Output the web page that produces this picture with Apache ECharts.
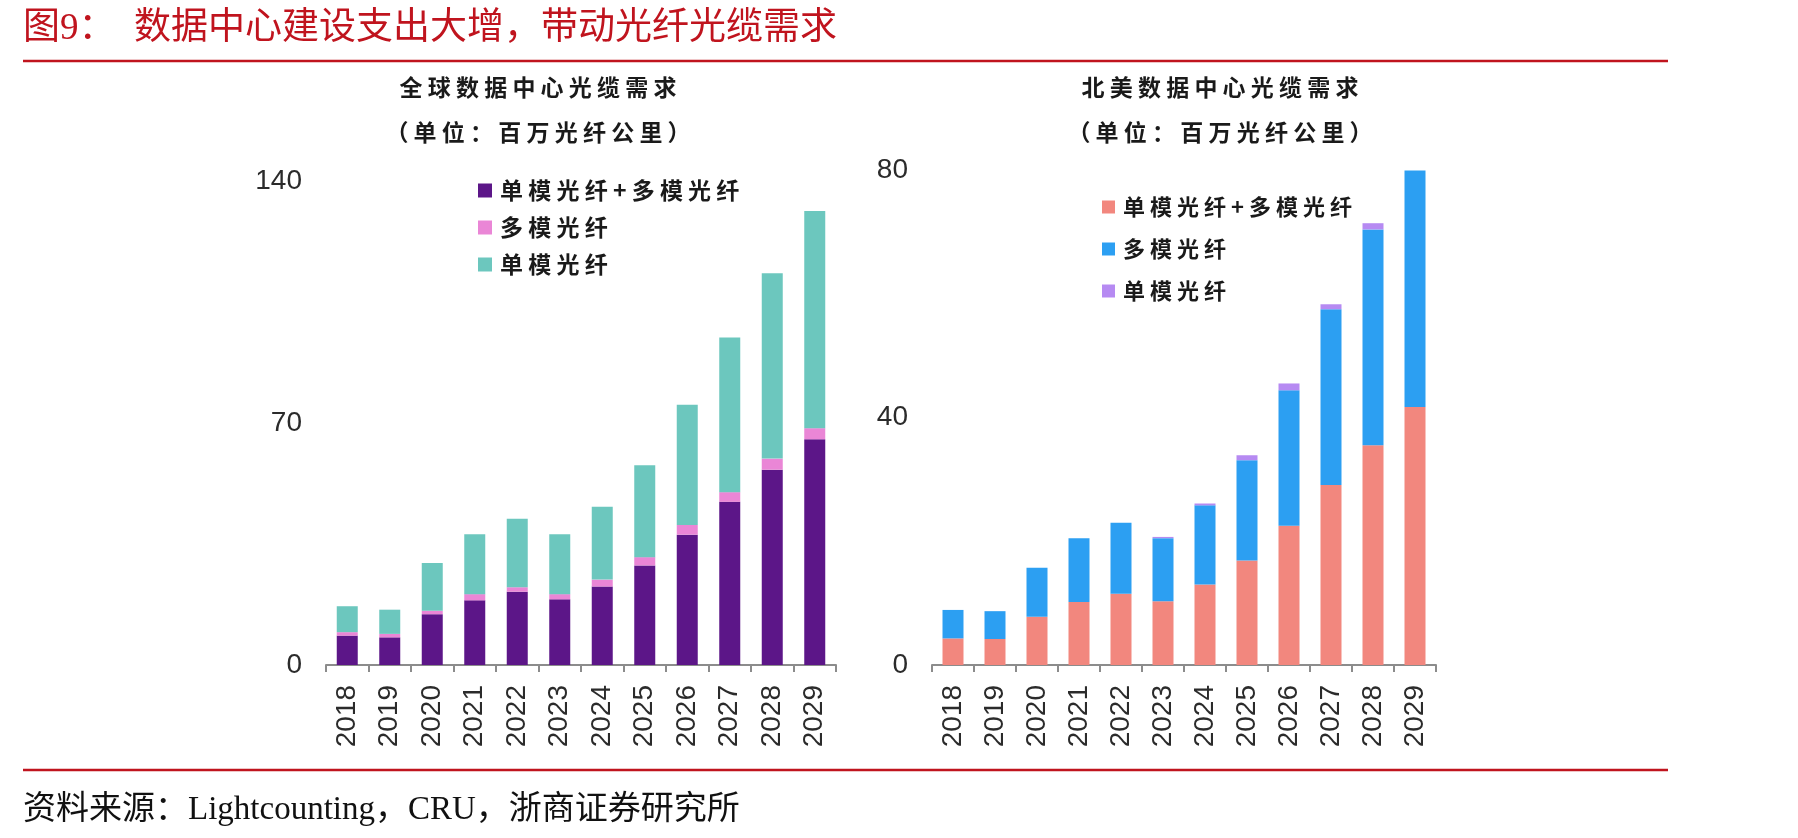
<!DOCTYPE html>
<html>
<head>
<meta charset="utf-8">
<script src="https://cdn.jsdelivr.net/npm/echarts@6/dist/echarts.min.js"></script>
<style>
html,body{margin:0;padding:0;background:#fff;}
#c{width:1798px;height:838px;}
</style>
</head>
<body>
<div id="c"></div>
<script>
// ---- data ----
const years = ['2018','2019','2020','2021','2022','2023','2024','2025','2026','2027','2028','2029'];
const seriesNames = ['单模光纤+多模光纤','多模光纤','单模光纤'];
// 全球数据中心光缆需求（百万光纤公里）
const globalSmMm = [8.5, 8.0, 14.7, 18.7, 21.2, 19.0, 22.7, 28.8, 37.7, 47.2, 56.5, 65.3];
const globalMm   = [1.0, 1.0, 1.0, 1.8, 1.3, 1.5, 2.0, 2.4, 2.8, 2.8, 3.2, 3.2];
const globalSm   = [7.5, 7.0, 13.8, 17.3, 19.8, 17.3, 21.1, 26.6, 34.8, 44.7, 53.6, 62.8];
// 北美数据中心光缆需求（百万光纤公里）
const naSmMm = [4.3, 4.2, 7.8, 10.2, 11.5, 10.3, 13.0, 16.9, 22.5, 29.1, 35.5, 41.7];
const naMm   = [4.6, 4.5, 7.9, 10.3, 11.5, 10.2, 12.8, 16.2, 21.9, 28.4, 34.9, 38.2];
const naSm   = [0, 0, 0, 0, 0, 0.2, 0.3, 0.8, 1.1, 0.8, 1.0, 0];
const globalTicks = [0, 70, 140];
const naTicks = [0, 40, 80];
const mainTitle = '图9：  数据中心建设支出大增，带动光纤光缆需求';
const leftTitle = '全球数据中心光缆需求';
const rightTitle = '北美数据中心光缆需求';
const unitText = '（单位：百万光纤公里）';
const sourceText = '资料来源：Lightcounting，CRU，浙商证券研究所';

// ---- chart ----
const spaced = s => s.split('').join(' ');
const CJK = '"Noto Sans CJK SC", sans-serif';
const NUM = '"Liberation Sans", Arial, sans-serif';
const SERIF = '"Liberation Serif", "Noto Sans CJK SC", serif';
const RED = '#c0141e';

const colorsL = ['#5c1688', '#ea86d6', '#6cc7be'];
const colorsR = ['#f2877e', '#2c9ff2', '#b68af2'];

function xAxis(gi){
  return {
    type:'category', gridIndex:gi, data:years,
    axisLine:{show:true, lineStyle:{color:'#8c8c8c', width:2}},
    axisTick:{show:true, alignWithLabel:false, length:7, lineStyle:{color:'#8c8c8c', width:2}},
    axisLabel:{rotate:90, fontSize:28, fontFamily:NUM, color:'#2b2b2b', margin:20}
  };
}
function yAxis(gi, ticks){
  return {
    type:'value', gridIndex:gi, min:ticks[0], max:ticks[ticks.length-1], interval:ticks[1]-ticks[0],
    axisLine:{show:false}, axisTick:{show:false}, splitLine:{show:false},
    axisLabel:{fontSize:28, fontFamily:NUM, color:'#2b2b2b', margin:24}
  };
}
function bar(name, data, gi, color, stack){
  return {name, type:'bar', xAxisIndex:gi, yAxisIndex:gi, stack, data, barWidth:21,
    itemStyle:{color}, emphasis:{disabled:true}};
}
const legendTextL = {fontSize:23, fontWeight:'bold', fontFamily:CJK, color:'#1a1a1a', lineHeight:22, padding:[0,0,0,3]};
const legendTextR = {fontSize:22, fontWeight:'bold', fontFamily:CJK, color:'#1a1a1a', lineHeight:22, padding:[0,0,0,3]};

const option = {
  animation:false,
  backgroundColor:'#fff',
  grid:[
    {left:326, top:181, width:510, height:484},
    {left:932, top:170, width:504, height:495}
  ],
  xAxis:[xAxis(0), xAxis(1)],
  yAxis:[yAxis(0, globalTicks), yAxis(1, naTicks)],
  legend:[
    {orient:'vertical', left:478, top:179, padding:0, itemGap:14, itemWidth:14, itemHeight:14,
     icon:'rect', data:['L'+0,'L'+1,'L'+2].map((k,i)=>({name:k, itemStyle:{color:colorsL[i]}})),
     formatter: n => spaced(seriesNames[+n.slice(1)]), textStyle:legendTextL, selectedMode:false},
    {orient:'vertical', left:1102, top:196, padding:0, itemGap:20, itemWidth:13, itemHeight:13,
     icon:'rect', data:['R'+0,'R'+1,'R'+2].map((k,i)=>({name:k, itemStyle:{color:colorsR[i]}})),
     formatter: n => spaced(seriesNames[+n.slice(1)]), textStyle:legendTextR, selectedMode:false}
  ],
  series:[
    bar('L0', globalSmMm, 0, colorsL[0], 'g'),
    bar('L1', globalMm, 0, colorsL[1], 'g'),
    bar('L2', globalSm, 0, colorsL[2], 'g'),
    bar('R0', naSmMm, 1, colorsR[0], 'n'),
    bar('R1', naMm, 1, colorsR[1], 'n'),
    bar('R2', naSm, 1, colorsR[2], 'n')
  ],
  graphic:[
    {type:'text', style:{text:mainTitle, x:23, y:29, font:'37px '+SERIF, fill:RED, textVerticalAlign:'middle'}},
    {type:'line', shape:{x1:23, y1:61, x2:1668, y2:61}, style:{stroke:RED, lineWidth:2.5}},
    {type:'line', shape:{x1:23, y1:770, x2:1668, y2:770}, style:{stroke:RED, lineWidth:2.5}},
    {type:'text', style:{text:sourceText, x:23, y:810, font:'33px '+SERIF, fill:'#111', textVerticalAlign:'middle'}},
    {type:'text', style:{text:spaced(leftTitle), x:538, y:87, font:'bold 23px '+CJK, fill:'#1a1a1a', textAlign:'center', textVerticalAlign:'middle'}},
    {type:'text', style:{text:spaced(unitText), x:538, y:132, font:'bold 23px '+CJK, fill:'#1a1a1a', textAlign:'center', textVerticalAlign:'middle'}},
    {type:'text', style:{text:spaced(rightTitle), x:1220, y:87, font:'bold 23px '+CJK, fill:'#1a1a1a', textAlign:'center', textVerticalAlign:'middle'}},
    {type:'text', style:{text:spaced(unitText), x:1220, y:132, font:'bold 23px '+CJK, fill:'#1a1a1a', textAlign:'center', textVerticalAlign:'middle'}}
  ]
};
const chart = echarts.init(document.getElementById('c'), null, {renderer:'canvas'});
chart.setOption(option);
</script>
</body>
</html>
